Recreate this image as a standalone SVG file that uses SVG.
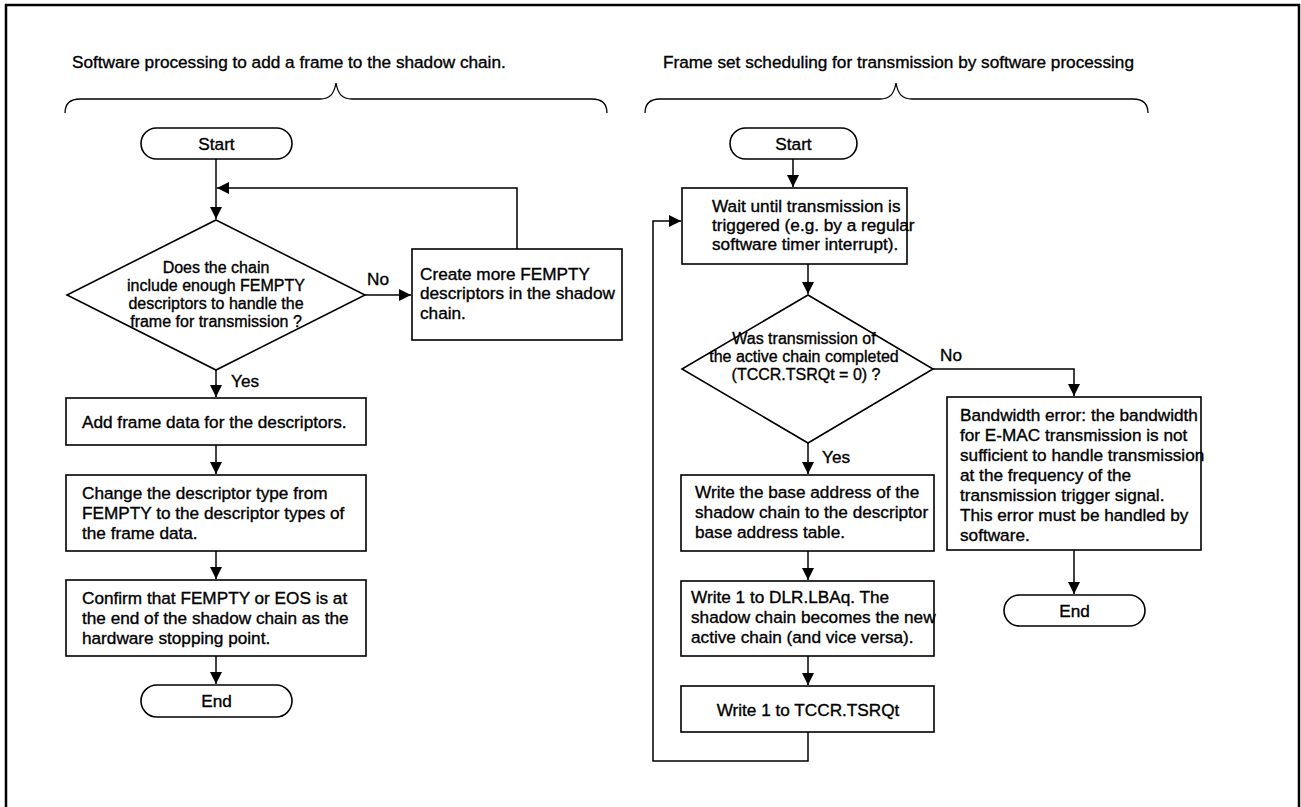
<svg xmlns="http://www.w3.org/2000/svg" width="1301" height="807" viewBox="0 0 1301 807">
<style>
text{font-family:"Liberation Sans",Arial,sans-serif;font-size:17.2px;fill:#000;stroke:#000;stroke-width:0.35}
.c{text-anchor:middle}
.d{font-size:16px}
.box{fill:#fff;stroke:#000;stroke-width:1.6}
.ln{fill:none;stroke:#000;stroke-width:1.5}
.br{fill:none;stroke:#000;stroke-width:1.3}
</style>
<defs>
<marker id="ah" markerUnits="userSpaceOnUse" markerWidth="13" markerHeight="12" refX="12" refY="6" orient="auto">
<path d="M0,0 L12,6 L0,12 z" fill="#000"/>
</marker>
</defs>
<rect x="6" y="5" width="1293" height="830" fill="#fff" stroke="#000" stroke-width="2.5"/>
<g id="titles">
<text x="72" y="68">Software processing to add a frame to the shadow chain.</text>
<text x="663" y="68">Frame set scheduling for transmission by software processing</text>
<path class="br" d="M65,113 C65,104 70,99 80,99 L320,99 C330,99 334,94 336,83 C338,94 342,99 352,99 L592,99 C602,99 607,104 607,113"/>
<path class="br" d="M645,113 C645,104 650,99 660,99 L880,99 C890,99 894,94 896,83 C898,94 902,99 912,99 L1133,99 C1143,99 1148,104 1148,113"/>
</g>
<g id="connectors">
<path class="ln" d="M216,159 V219" marker-end="url(#ah)"/>
<path class="ln" d="M517,249 V188 H217" marker-end="url(#ah)"/>
<path class="ln" d="M365,295 H411" marker-end="url(#ah)"/>
<path class="ln" d="M216,370 V397" marker-end="url(#ah)"/>
<path class="ln" d="M216,445 V474" marker-end="url(#ah)"/>
<path class="ln" d="M216,551 V579" marker-end="url(#ah)"/>
<path class="ln" d="M216,656 V684" marker-end="url(#ah)"/>
<path class="ln" d="M793,159 V187" marker-end="url(#ah)"/>
<path class="ln" d="M808,264 V294" marker-end="url(#ah)"/>
<path class="ln" d="M933,369 H1074 V396" marker-end="url(#ah)"/>
<path class="ln" d="M808,443 V474" marker-end="url(#ah)"/>
<path class="ln" d="M808,551 V580" marker-end="url(#ah)"/>
<path class="ln" d="M808,656 V685" marker-end="url(#ah)"/>
<path class="ln" d="M808,732 V761 H653 V221 H681" marker-end="url(#ah)"/>
<path class="ln" d="M1074,550 V594" marker-end="url(#ah)"/>
</g>
<g id="labels">
<text x="367" y="285">No</text>
<text x="231" y="387">Yes</text>
<text x="940" y="361">No</text>
<text x="822" y="463">Yes</text>
</g>
<g id="l-start">
<rect class="box" x="141" y="128" width="151" height="31" rx="15.5"/>
<text class="c" x="216.5" y="149.5">Start</text>
</g>
<g id="l-decision">
<polygon class="box" points="216,220 365,295 216,370 67,295"/>
<text class="c d" x="216" y="273">Does the chain</text>
<text class="c d" x="216" y="291">include enough FEMPTY</text>
<text class="c d" x="216" y="309">descriptors to handle the</text>
<text class="c d" x="216" y="327">frame for transmission ?</text>
</g>
<g id="l-create">
<rect class="box" x="412" y="249" width="210" height="91"/>
<text x="420" y="280">Create more FEMPTY</text>
<text x="420" y="299">descriptors in the shadow</text>
<text x="420" y="319">chain.</text>
</g>
<g id="l-add">
<rect class="box" x="66" y="398" width="300" height="47"/>
<text x="82" y="428">Add frame data for the descriptors.</text>
</g>
<g id="l-change">
<rect class="box" x="66" y="475" width="300" height="76"/>
<text x="82" y="499">Change the descriptor type from</text>
<text x="82" y="519">FEMPTY to the descriptor types of</text>
<text x="82" y="539">the frame data.</text>
</g>
<g id="l-confirm">
<rect class="box" x="66" y="580" width="300" height="76"/>
<text x="82" y="604">Confirm that FEMPTY or EOS is at</text>
<text x="82" y="624">the end of the shadow chain as the</text>
<text x="82" y="644">hardware stopping point.</text>
</g>
<g id="l-end">
<rect class="box" x="141" y="685" width="151" height="32" rx="16"/>
<text class="c" x="216.5" y="707">End</text>
</g>
<g id="r-start">
<rect class="box" x="730" y="128" width="127" height="31" rx="15.5"/>
<text class="c" x="793.5" y="149.5">Start</text>
</g>
<g id="r-wait">
<rect class="box" x="682" y="188" width="225" height="76"/>
<text x="712" y="212">Wait until transmission is</text>
<text x="712" y="231">triggered (e.g. by a regular</text>
<text x="712" y="250">software timer interrupt).</text>
</g>
<g id="r-decision">
<polygon class="box" points="808,295 933,369 808,443 682,369"/>
<text class="c d" x="804" y="344">Was transmission of</text>
<text class="c d" x="804" y="362">the active chain completed</text>
<text class="c d" x="806" y="380">(TCCR.TSRQt = 0) ?</text>
</g>
<g id="r-bandwidth">
<rect class="box" x="947" y="397" width="254" height="153"/>
<text x="960" y="421">Bandwidth error: the bandwidth</text>
<text x="960" y="441">for E-MAC transmission is not</text>
<text x="960" y="461">sufficient to handle transmission</text>
<text x="960" y="481">at the frequency of the</text>
<text x="960" y="501">transmission trigger signal.</text>
<text x="960" y="521">This error must be handled by</text>
<text x="960" y="541">software.</text>
</g>
<g id="r-end">
<rect class="box" x="1004" y="595" width="141" height="31" rx="15.5"/>
<text class="c" x="1074.5" y="616.5">End</text>
</g>
<g id="r-write-base">
<rect class="box" x="681" y="475" width="253" height="76"/>
<text x="695" y="498">Write the base address of the</text>
<text x="695" y="518">shadow chain to the descriptor</text>
<text x="695" y="538">base address table.</text>
</g>
<g id="r-write-dlr">
<rect class="box" x="681" y="581" width="253" height="75"/>
<text x="691" y="603">Write 1 to DLR.LBAq. The</text>
<text x="691" y="623">shadow chain becomes the new</text>
<text x="691" y="643">active chain (and vice versa).</text>
</g>
<g id="r-write-tccr">
<rect class="box" x="681" y="686" width="253" height="46"/>
<text class="c" x="808" y="716">Write 1 to TCCR.TSRQt</text>
</g>
</svg>
